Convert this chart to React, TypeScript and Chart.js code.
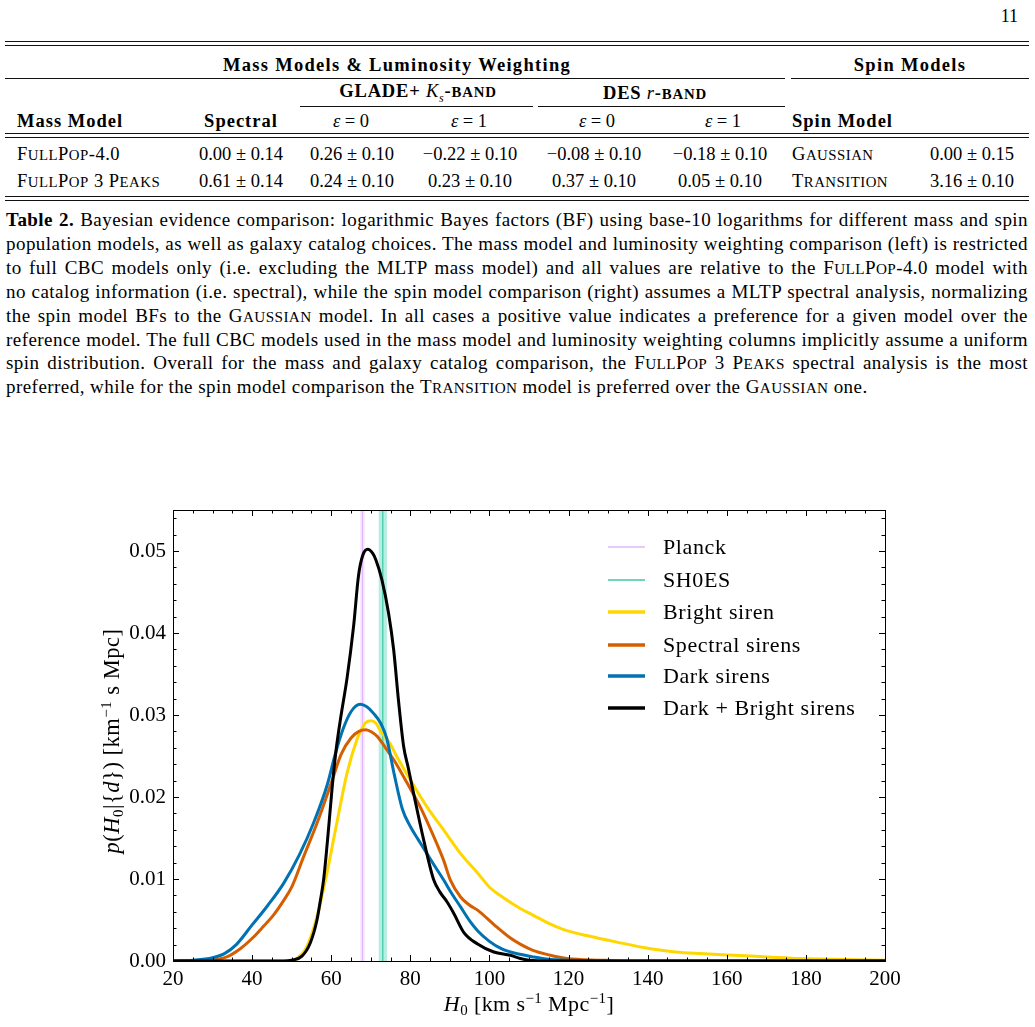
import React, { useEffect, useRef } from "react";
import { Chart, registerables } from "chart.js";

Chart.register(...registerables);

// ---------------- Table data ----------------
const MASS_MODELS = ["FullPop-4.0", "FullPop 3 Peaks"];
const SPECTRAL = ["0.00 ± 0.14", "0.61 ± 0.14"];
const GLADE_E0 = ["0.26 ± 0.10", "0.24 ± 0.10"];
const GLADE_E1 = ["−0.22 ± 0.10", "0.23 ± 0.10"];
const DES_E0 = ["−0.08 ± 0.10", "0.37 ± 0.10"];
const DES_E1 = ["−0.18 ± 0.10", "0.05 ± 0.10"];
const SPIN_MODELS = ["Gaussian", "Transition"];
const SPIN_BF = ["0.00 ± 0.15", "3.16 ± 0.10"];

// ---------------- Chart data ----------------
const X_MIN = 20;
const X_MAX = 200;
const Y_MIN = 0;
const Y_MAX = 0.055;
const X_STEP = 20;
const X_MINOR = 5;
const Y_STEP = 0.01;
const Y_MINOR = 0.002;

const PLANCK_H0 = 67.9;
const PLANCK_ERR = 0.55;
const SHOES_H0 = 73.04;
const SHOES_ERR = 1.04;

const BRIGHT_H = [20, 50, 51.3, 53.8, 56.4, 58.9, 61.4, 64, 66.5, 67.5, 68.8, 70.1, 71.3, 72.4, 74.9, 76.6, 80, 84.2, 88.4, 92.7, 96.9, 100, 103, 107.8, 111, 115, 119.6, 124.6, 132.2, 140.7, 147, 153.3, 161.8, 170.2, 178.6, 187.1, 200];
const BRIGHT_P = [0, 0, 0.0003, 0.0017, 0.0054, 0.0107, 0.0168, 0.0229, 0.027, 0.0281, 0.0291, 0.0293, 0.029, 0.0281, 0.0265, 0.0249, 0.0221, 0.0188, 0.016, 0.0131, 0.0108, 0.009, 0.0079, 0.0064, 0.0056, 0.0046, 0.0037, 0.0031, 0.0023, 0.0015, 0.0011, 0.0009, 0.0007, 0.0005, 0.0003, 0.0002, 0.0001];

const SPECTRAL_H = [20, 25, 29.4, 33.6, 37, 40.3, 43, 45.4, 48, 50, 53, 56.4, 60, 62.5, 65, 67, 68.8, 70.3, 71.6, 74, 76, 79.2, 82.5, 85.9, 88.4, 90.1, 92.7, 95, 97, 101, 105.3, 108, 111, 115.4, 119.6, 128, 135, 200];
const SPECTRAL_P = [0, 0.00005, 0.0001, 0.0005, 0.0015, 0.0029, 0.0043, 0.0056, 0.0074, 0.009, 0.0127, 0.0168, 0.0217, 0.0252, 0.0272, 0.028, 0.0282, 0.0279, 0.0274, 0.0258, 0.0244, 0.0217, 0.0188, 0.0152, 0.0123, 0.0099, 0.0078, 0.0068, 0.0062, 0.0045, 0.0028, 0.002, 0.0013, 0.0007, 0.0003, 0.0001, 0, 0];

const DARK_H = [20, 25, 30, 33, 36, 40, 44, 48, 52, 55.5, 59, 61, 63, 65, 67.3, 69, 70.7, 72.5, 74, 76, 78, 80, 82, 84.2, 86, 88.4, 90.5, 92.7, 95, 97, 100, 103, 106, 108, 111, 115, 120, 130, 200];
const DARK_P = [0, 0.0001, 0.0004, 0.0009, 0.002, 0.0044, 0.0068, 0.0095, 0.013, 0.0168, 0.0215, 0.0252, 0.0283, 0.0304, 0.0313, 0.031, 0.0302, 0.029, 0.0272, 0.0226, 0.0185, 0.0164, 0.0148, 0.0131, 0.0117, 0.0099, 0.0082, 0.0066, 0.0049, 0.0037, 0.0024, 0.0015, 0.001, 0.0008, 0.0005, 0.0002, 0.0001, 0, 0];

const COMBINED_H = [20, 48, 50, 52.6, 54.7, 56.4, 57.3, 58.1, 59.3, 60.3, 61.3, 62.5, 64, 65.65, 66.9, 68, 69.2, 70.5, 71.3, 72.8, 74.5, 75.8, 77, 78.3, 79.5, 80.8, 83.4, 85.9, 87.5, 89.3, 91, 93.5, 96.9, 101.1, 105.3, 107.8, 110, 115, 200];
const COMBINED_P = [0, 0, 0.0001, 0.0006, 0.0022, 0.005, 0.0075, 0.01, 0.016, 0.0215, 0.026, 0.03, 0.0345, 0.0408, 0.047, 0.0495, 0.0502, 0.0497, 0.0489, 0.0465, 0.0424, 0.0379, 0.0318, 0.0262, 0.0235, 0.0205, 0.0147, 0.0099, 0.0084, 0.0072, 0.0058, 0.0035, 0.0021, 0.0011, 0.0007, 0.0003, 0.0001, 0, 0];

const FONT = "'Liberation Serif', 'Times New Roman', serif";
const CANVAS_TOP = 480;
const CANVAS_W = 1035;
const CANVAS_H = 547;

type Seg = { t: string; it?: boolean; s?: number; dy?: number };

function drawRich(ctx: CanvasRenderingContext2D, segs: Seg[], cx: number, cy: number, base: number, rot: number, ls = 0) {
  ctx.save();
  ctx.translate(cx, cy);
  ctx.rotate(rot);
  ctx.fillStyle = "#000";
  ctx.textBaseline = "alphabetic";
  ctx.textAlign = "left";
  (ctx as any).letterSpacing = `${ls}px`;
  const fontOf = (g: Seg) => `${g.it ? "italic " : ""}${g.s ?? base}px ${FONT}`;
  let w = 0;
  for (const g of segs) {
    ctx.font = fontOf(g);
    w += ctx.measureText(g.t).width;
  }
  let x = -w / 2;
  for (const g of segs) {
    ctx.font = fontOf(g);
    ctx.fillText(g.t, x, base * 0.33 + (g.dy ?? 0));
    x += ctx.measureText(g.t).width;
  }
  ctx.restore();
}

function toPoints(xs: number[], ys: number[]) {
  return xs.map((x, i) => ({ x, y: ys[i] }));
}

const decorPlugin = {
  id: "decor",
  beforeDatasetsDraw(chart: any) {
    const { ctx, chartArea: a, scales } = chart;
    const xs = scales.x;
    ctx.save();
    ctx.beginPath();
    ctx.rect(a.left, a.top, a.right - a.left, a.bottom - a.top);
    ctx.clip();
    const band = (c: number, e: number, color: string) => {
      const l = xs.getPixelForValue(c - e);
      const r = xs.getPixelForValue(c + e);
      ctx.fillStyle = color;
      ctx.fillRect(l, a.top, r - l, a.bottom - a.top);
    };
    band(PLANCK_H0, PLANCK_ERR, "rgba(214,160,255,0.28)");
    band(SHOES_H0, SHOES_ERR, "rgba(64,210,175,0.38)");
    ctx.restore();
  },
  afterDraw(chart: any) {
    const { ctx, chartArea: a, scales } = chart;
    const xs = scales.x;
    const ys = scales.y;
    ctx.save();
    ctx.strokeStyle = "#000";
    ctx.lineWidth = 1;
    ctx.strokeRect(Math.round(a.left) + 0.5, Math.round(a.top) + 0.5, Math.round(a.right - a.left), Math.round(a.bottom - a.top));
    const MAJ = 6;
    const MIN = 3.5;
    ctx.beginPath();
    for (let v = X_MIN; v <= X_MAX + 1e-9; v += X_MINOR) {
      const px = Math.round(xs.getPixelForValue(v)) + 0.5;
      const len = Math.abs(v / X_STEP - Math.round(v / X_STEP)) < 1e-6 ? MAJ : MIN;
      ctx.moveTo(px, a.bottom);
      ctx.lineTo(px, a.bottom - len);
      ctx.moveTo(px, a.top);
      ctx.lineTo(px, a.top + len);
    }
    for (let v = Y_MIN; v <= Y_MAX + 1e-9; v += Y_MINOR) {
      const py = Math.round(ys.getPixelForValue(v)) + 0.5;
      const len = Math.abs(v / Y_STEP - Math.round(v / Y_STEP)) < 1e-6 ? MAJ : MIN;
      ctx.moveTo(a.left, py);
      ctx.lineTo(a.left + len, py);
      ctx.moveTo(a.right, py);
      ctx.lineTo(a.right - len, py);
    }
    ctx.stroke();

    // legend
    const rows = [547, 580, 612, 645, 676, 708];
    const ds = chart.data.datasets;
    ds.forEach((d: any, i: number) => {
      const y = rows[i] - CANVAS_TOP;
      ctx.strokeStyle = d.borderColor;
      ctx.lineWidth = d.legendWidth;
      ctx.beginPath();
      ctx.moveTo(608, y);
      ctx.lineTo(645, y);
      ctx.stroke();
      ctx.fillStyle = "#000";
      ctx.font = `22px ${FONT}`;
      (ctx as any).letterSpacing = "0.6px";
      ctx.textBaseline = "middle";
      ctx.textAlign = "left";
      ctx.fillText(d.label, 663, y + 1);
      (ctx as any).letterSpacing = "0px";
    });

    // axis titles
    drawRich(
      ctx,
      [
        { t: "H", it: true },
        { t: "0", s: 15, dy: 4 },
        { t: " [km s" },
        { t: "−1", s: 15, dy: -8 },
        { t: " Mpc" },
        { t: "−1", s: 15, dy: -8 },
        { t: "]" },
      ],
      529,
      1004 - CANVAS_TOP,
      22,
      0,
      0.4
    );
    drawRich(
      ctx,
      [
        { t: "p", it: true },
        { t: "(" },
        { t: "H", it: true },
        { t: "0", s: 15, dy: 4 },
        { t: "|{" },
        { t: "d", it: true },
        { t: "}) [km" },
        { t: "−1", s: 15, dy: -8 },
        { t: " s Mpc]" },
      ],
      112,
      741 - CANVAS_TOP,
      22.5,
      -Math.PI / 2,
      0.5
    );
    ctx.restore();
  },
};

function H0Chart() {
  const ref = useRef<HTMLCanvasElement>(null);
  useEffect(() => {
    if (!ref.current) return;
    const chart = new Chart(ref.current, {
      type: "scatter",
      data: {
        datasets: [
          {
            label: "Planck",
            data: [
              { x: PLANCK_H0, y: Y_MIN },
              { x: PLANCK_H0, y: Y_MAX },
            ],
            borderColor: "#e2b6fb",
            borderWidth: 1.2,
            showLine: true,
            pointRadius: 0,
            order: 10,
            legendWidth: 1.3,
          } as any,
          {
            label: "SH0ES",
            data: [
              { x: SHOES_H0, y: Y_MIN },
              { x: SHOES_H0, y: Y_MAX },
            ],
            borderColor: "#3cc9a6",
            borderWidth: 1.2,
            showLine: true,
            pointRadius: 0,
            order: 9,
            legendWidth: 1.3,
          } as any,
          {
            label: "Bright siren",
            data: toPoints(BRIGHT_H, BRIGHT_P),
            borderColor: "#FFD700",
            borderWidth: 3,
            showLine: true,
            pointRadius: 0,
            cubicInterpolationMode: "monotone",
            order: 4,
            legendWidth: 3.5,
          } as any,
          {
            label: "Spectral sirens",
            data: toPoints(SPECTRAL_H, SPECTRAL_P),
            borderColor: "#D55E00",
            borderWidth: 3,
            showLine: true,
            pointRadius: 0,
            cubicInterpolationMode: "monotone",
            order: 3,
            legendWidth: 3.5,
          } as any,
          {
            label: "Dark sirens",
            data: toPoints(DARK_H, DARK_P),
            borderColor: "#0072B2",
            borderWidth: 3,
            showLine: true,
            pointRadius: 0,
            cubicInterpolationMode: "monotone",
            order: 2,
            legendWidth: 3.5,
          } as any,
          {
            label: "Dark + Bright sirens",
            data: toPoints(COMBINED_H, COMBINED_P),
            borderColor: "#000000",
            borderWidth: 3,
            showLine: true,
            pointRadius: 0,
            cubicInterpolationMode: "monotone",
            order: 1,
            legendWidth: 3.5,
          } as any,
        ],
      },
      options: {
        animation: false,
        responsive: false,
        maintainAspectRatio: false,
        devicePixelRatio: 1,
        layout: { padding: { left: 0, right: CANVAS_W - 885, top: 510 - CANVAS_TOP, bottom: 0 } },
        plugins: { legend: { display: false }, tooltip: { enabled: false } },
        scales: {
          x: {
            type: "linear",
            min: X_MIN,
            max: X_MAX,
            grid: { display: false, drawTicks: false },
            border: { display: false },
            ticks: {
              stepSize: X_STEP,
              includeBounds: false,
              autoSkip: false,
              maxRotation: 0,
              color: "#000",
              padding: 6,
              font: { family: FONT, size: 21 },
              callback: (v: any) => String(Math.round(Number(v))),
            },
            afterFit: (s: any) => {
              s.height = CANVAS_H - (961 - CANVAS_TOP);
            },
          },
          y: {
            type: "linear",
            min: Y_MIN,
            max: Y_MAX,
            grid: { display: false, drawTicks: false },
            border: { display: false },
            ticks: {
              stepSize: Y_STEP,
              includeBounds: false,
              autoSkip: false,
              color: "#000",
              padding: 7,
              font: { family: FONT, size: 21 },
              callback: (v: any) => Number(v).toFixed(2),
            },
            afterFit: (s: any) => {
              s.width = 173;
            },
          },
        },
      } as any,
      plugins: [decorPlugin],
    });
    return () => chart.destroy();
  }, []);
  return (
    <canvas
      ref={ref}
      width={CANVAS_W}
      height={CANVAS_H}
      style={{ position: "absolute", left: 0, top: CANVAS_TOP, width: CANVAS_W, height: CANVAS_H }}
    />
  );
}

type TxtProps = { x: number; y: number; align?: "left" | "center" | "right"; children: React.ReactNode; style?: React.CSSProperties };
function Txt({ x, y, align = "center", children, style }: TxtProps) {
  const tx = align === "center" ? "-50%" : align === "right" ? "-100%" : "0";
  return (
    <div
      style={{
        position: "absolute",
        left: x,
        top: y,
        transform: `translate(${tx}, -50%)`,
        whiteSpace: "nowrap",
        lineHeight: 1,
        ...style,
      }}
    >
      {children}
    </div>
  );
}

function Rule({ x1, x2, y, h = 1 }: { x1: number; x2: number; y: number; h?: number }) {
  return <div style={{ position: "absolute", left: x1, top: y, width: x2 - x1, height: h, background: "#111" }} />;
}

// small caps built by hand: capitals full size, lower-case letters as reduced capitals
function SC({ t, ls = 0.4 }: { t: string; ls?: number }) {
  const parts: React.ReactNode[] = [];
  let buf = "";
  let low = false;
  const flush = (k: number) => {
    if (!buf) return;
    parts.push(
      low ? (
        <span key={k} style={{ fontSize: "0.8em" }}>
          {buf.toUpperCase()}
        </span>
      ) : (
        <span key={k}>{buf}</span>
      )
    );
    buf = "";
  };
  [...t].forEach((ch, i) => {
    const isLow = ch >= "a" && ch <= "z";
    if (isLow !== low) {
      flush(i);
      low = isLow;
    }
    buf += ch;
  });
  flush(t.length + 1);
  return <span style={{ letterSpacing: ls }}>{parts}</span>;
}

function Eps({ v }: { v: string }) {
  return (
    <span>
      <i>ε</i> = {v}
    </span>
  );
}

const CAPTION_LINES: React.ReactNode[] = [
  <>
    <b>Table 2.</b> Bayesian evidence comparison: logarithmic Bayes factors (BF) using base-10 logarithms for different mass and spin
  </>,
  <>population models, as well as galaxy catalog choices. The mass model and luminosity weighting comparison (left) is restricted</>,
  <>
    to full CBC models only (i.e. excluding the MLTP mass model) and all values are relative to the <SC t="FullPop-4.0" /> model with
  </>,
  <>no catalog information (i.e. spectral), while the spin model comparison (right) assumes a MLTP spectral analysis, normalizing</>,
  <>
    the spin model BFs to the <SC t="Gaussian" /> model. In all cases a positive value indicates a preference for a given model over the
  </>,
  <>reference model. The full CBC models used in the mass model and luminosity weighting columns implicitly assume a uniform</>,
  <>
    spin distribution. Overall for the mass and galaxy catalog comparison, the <SC t="FullPop 3 Peaks" /> spectral analysis is the most
  </>,
  <>
    preferred, while for the spin model comparison the <SC t="Transition" /> model is preferred over the <SC t="Gaussian" /> one.
  </>,
];

export default function App() {
  const TF = 18.5;
  const rowY = [154, 181];
  const colX = [241, 352, 470, 594, 720];
  const cols = [SPECTRAL, GLADE_E0, GLADE_E1, DES_E0, DES_E1];
  return (
    <div
      style={{
        position: "absolute",
        left: 0,
        top: 0,
        width: 1035,
        height: 1027,
        background: "#fff",
        fontFamily: FONT,
        color: "#000",
        overflow: "hidden",
      }}
    >
      <Txt x={1018} y={16} align="right" style={{ fontSize: 18 }}>
        11
      </Txt>
      <Rule x1={5} x2={1029} y={41} h={1.3} />
      <Rule x1={5} x2={1029} y={45} h={0.9} />

      <div style={{ fontSize: TF }}>
        <Txt x={397} y={65} style={{ fontWeight: "bold", letterSpacing: 1.3 }}>
          Mass Models &amp; Luminosity Weighting
        </Txt>
        <Txt x={910} y={65} style={{ fontWeight: "bold", letterSpacing: 1.3 }}>
          Spin Models
        </Txt>
        <Rule x1={5} x2={785} y={78} h={0.8} />
        <Rule x1={791} x2={1029} y={78} h={0.8} />

        <Txt x={418} y={93} style={{ fontWeight: "bold", letterSpacing: 0.8 }}>
          GLADE+ <i style={{ fontWeight: "normal" }}>K</i>
          <sub style={{ fontWeight: "normal", fontSize: "0.65em", fontStyle: "italic" }}>s</sub>
          <SC t="-band" ls={0.8} />
        </Txt>
        <Txt x={655} y={93} style={{ fontWeight: "bold", letterSpacing: 0.8 }}>
          DES <i style={{ fontWeight: "normal" }}>r</i>
          <SC t="-band" ls={0.8} />
        </Txt>
        <Rule x1={300} x2={533} y={106} h={0.8} />
        <Rule x1={538} x2={785} y={106} h={0.8} />

        <Txt x={17} y={121} align="left" style={{ fontWeight: "bold", letterSpacing: 1.0 }}>
          Mass Model
        </Txt>
        <Txt x={241} y={121} style={{ fontWeight: "bold", letterSpacing: 1.0 }}>
          Spectral
        </Txt>
        <Txt x={351} y={121}>
          <Eps v="0" />
        </Txt>
        <Txt x={469} y={121}>
          <Eps v="1" />
        </Txt>
        <Txt x={597} y={121}>
          <Eps v="0" />
        </Txt>
        <Txt x={723} y={121}>
          <Eps v="1" />
        </Txt>
        <Txt x={792} y={121} align="left" style={{ fontWeight: "bold", letterSpacing: 1.0 }}>
          Spin Model
        </Txt>
        <Rule x1={5} x2={1029} y={133} h={0.9} />
        <Rule x1={5} x2={1029} y={137} h={0.9} />

        {MASS_MODELS.map((m, r) => (
          <React.Fragment key={m}>
            <Txt x={17} y={rowY[r]} align="left">
              <SC t={m} ls={0.5} />
            </Txt>
            {cols.map((c, k) => (
              <Txt key={k} x={colX[k]} y={rowY[r]}>
                {c[r]}
              </Txt>
            ))}
            <Txt x={792} y={rowY[r]} align="left">
              <SC t={SPIN_MODELS[r]} ls={0.5} />
            </Txt>
            <Txt x={972} y={rowY[r]}>
              {SPIN_BF[r]}
            </Txt>
          </React.Fragment>
        ))}
        <Rule x1={5} x2={1029} y={196} h={0.9} />
        <Rule x1={5} x2={1029} y={200} h={1.3} />
      </div>

      {CAPTION_LINES.map((line, i) => (
        <div
          key={i}
          style={{
            position: "absolute",
            left: 6,
            top: 208 + i * 23.9,
            width: 1022,
            fontSize: 19,
            letterSpacing: 0.45,
            lineHeight: "24px",
            whiteSpace: "nowrap",
            textAlign: "justify",
            textAlignLast: i === CAPTION_LINES.length - 1 ? "left" : "justify",
          }}
        >
          {line}
        </div>
      ))}

      <H0Chart />
    </div>
  );
}
